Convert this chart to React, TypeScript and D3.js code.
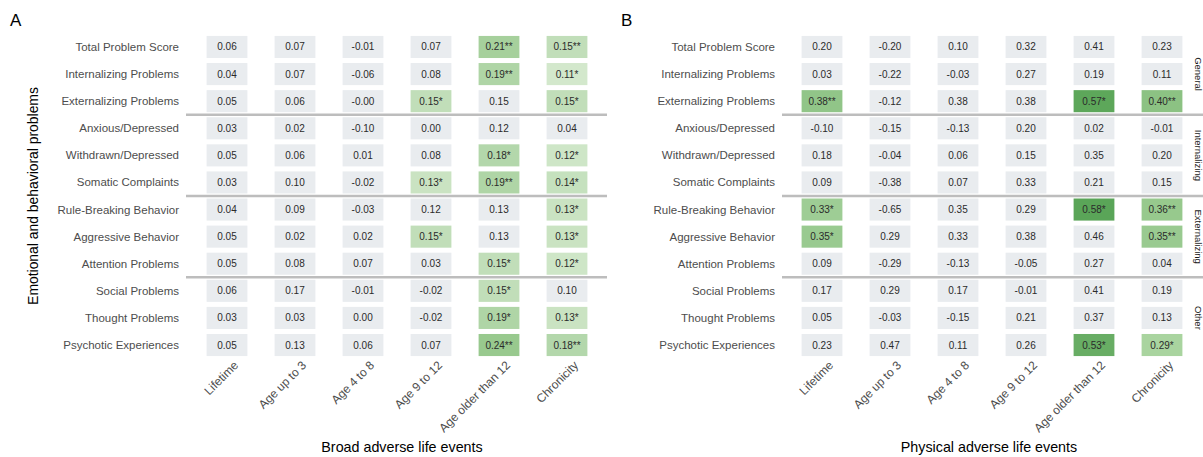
import React from "react";
import * as d3 from "d3";

const rows = [
  "Total Problem Score",
  "Internalizing Problems",
  "Externalizing Problems",
  "Anxious/Depressed",
  "Withdrawn/Depressed",
  "Somatic Complaints",
  "Rule-Breaking Behavior",
  "Aggressive Behavior",
  "Attention Problems",
  "Social Problems",
  "Thought Problems",
  "Psychotic Experiences",
];

const columns = ["Lifetime", "Age up to 3", "Age 4 to 8", "Age 9 to 12", "Age older than 12", "Chronicity"];

const groups = ["General", "Internalizing", "Externalizing", "Other"];
const groupRows = [3, 3, 3, 3];

// Panel A: Broad adverse life events
const broadValues = [
  [0.06, 0.07, -0.01, 0.07, 0.21, 0.15],
  [0.04, 0.07, -0.06, 0.08, 0.19, 0.11],
  [0.05, 0.06, -0, 0.15, 0.15, 0.15],
  [0.03, 0.02, -0.1, 0.0, 0.12, 0.04],
  [0.05, 0.06, 0.01, 0.08, 0.18, 0.12],
  [0.03, 0.1, -0.02, 0.13, 0.19, 0.14],
  [0.04, 0.09, -0.03, 0.12, 0.13, 0.13],
  [0.05, 0.02, 0.02, 0.15, 0.13, 0.13],
  [0.05, 0.08, 0.07, 0.03, 0.15, 0.12],
  [0.06, 0.17, -0.01, -0.02, 0.15, 0.1],
  [0.03, 0.03, 0.0, -0.02, 0.19, 0.13],
  [0.05, 0.13, 0.06, 0.07, 0.24, 0.18],
];
const broadStars = [
  ["", "", "", "", "**", "**"],
  ["", "", "", "", "**", "*"],
  ["", "", "", "*", "", "*"],
  ["", "", "", "", "", ""],
  ["", "", "", "", "*", "*"],
  ["", "", "", "*", "**", "*"],
  ["", "", "", "", "", "*"],
  ["", "", "", "*", "", "*"],
  ["", "", "", "", "*", "*"],
  ["", "", "", "", "*", ""],
  ["", "", "", "", "*", "*"],
  ["", "", "", "", "**", "**"],
];

// Panel B: Physical adverse life events
const physicalValues = [
  [0.2, -0.2, 0.1, 0.32, 0.41, 0.23],
  [0.03, -0.22, -0.03, 0.27, 0.19, 0.11],
  [0.38, -0.12, 0.38, 0.38, 0.57, 0.4],
  [-0.1, -0.15, -0.13, 0.2, 0.02, -0.01],
  [0.18, -0.04, 0.06, 0.15, 0.35, 0.2],
  [0.09, -0.38, 0.07, 0.33, 0.21, 0.15],
  [0.33, -0.65, 0.35, 0.29, 0.58, 0.36],
  [0.35, 0.29, 0.33, 0.38, 0.46, 0.35],
  [0.09, -0.29, -0.13, -0.05, 0.27, 0.04],
  [0.17, 0.29, 0.17, -0.01, 0.41, 0.19],
  [0.05, -0.03, -0.15, 0.21, 0.37, 0.13],
  [0.23, 0.47, 0.11, 0.26, 0.53, 0.29],
];
const physicalStars = [
  ["", "", "", "", "", ""],
  ["", "", "", "", "", ""],
  ["**", "", "", "", "*", "**"],
  ["", "", "", "", "", ""],
  ["", "", "", "", "", ""],
  ["", "", "", "", "", ""],
  ["*", "", "", "", "*", "**"],
  ["*", "", "", "", "", "**"],
  ["", "", "", "", "", ""],
  ["", "", "", "", "", ""],
  ["", "", "", "", "", ""],
  ["", "", "", "", "*", "*"],
];

const FONT = "'Liberation Sans', Arial, Helvetica, sans-serif";
const W = 1203;
const H = 457;

function fmt(v: number): string {
  const neg = v < 0 || Object.is(v, -0);
  return (neg ? "-" : "") + Math.abs(v).toFixed(2);
}

type PanelProps = {
  letter: string;
  letterX: number;
  x0: number;
  x1: number;
  lineX0: number;
  lineX1: number;
  labelRight: number;
  title: string;
  titleX: number;
  values: number[][];
  stars: string[][];
  color: (v: number) => string;
  strip: boolean;
};

function Panel(p: PanelProps) {
  const x = d3.scaleBand<string>().domain(columns).range([p.x0, p.x1]).paddingInner(0.4).paddingOuter(0.2);
  const y = d3.scaleBand<string>().domain(rows).range([33.5, 358.5]).paddingInner(0.185).paddingOuter(0.09);
  const cum: number[] = [];
  let acc = 0;
  groupRows.forEach((n) => {
    cum.push(acc);
    acc += n;
  });
  const sepYs = cum.slice(1).map((i) => (y(rows[i - 1])! + y.bandwidth() + y(rows[i])!) / 2);
  return (
    <g>
      <text x={p.letterX} y={26} fontSize={17} fontFamily={FONT} fill="#000">
        {p.letter}
      </text>
      {rows.map((r) => (
        <text
          key={r}
          x={p.labelRight}
          y={y(r)! + y.bandwidth() / 2}
          dy="0.35em"
          textAnchor="end"
          fontSize={11.5}
          fontFamily={FONT}
          fill="#4d4d4d"
        >
          {r}
        </text>
      ))}
      {rows.map((r, i) =>
        columns.map((c, j) => {
          const v = p.values[i][j];
          const s = p.stars[i][j];
          return (
            <g key={r + c}>
              <rect
                x={x(c)!}
                y={y(r)!}
                width={x.bandwidth()}
                height={y.bandwidth()}
                fill={s ? p.color(v) : "#e9ecef"}
              />
              <text
                x={x(c)! + x.bandwidth() / 2}
                y={y(r)! + y.bandwidth() / 2}
                dy="0.35em"
                textAnchor="middle"
                fontSize={10}
                fontFamily={FONT}
                fill="#2b2b2b"
              >
                {fmt(v) + s}
              </text>
            </g>
          );
        })
      )}
      {sepYs.map((sy, k) => (
        <line key={k} x1={p.lineX0} x2={p.lineX1} y1={sy} y2={sy} stroke="#bdbdbd" strokeWidth={2.5} />
      ))}
      {columns.map((c) => {
        const cx = x(c)! + x.bandwidth() / 2 + 12;
        const cy = 366;
        return (
          <text
            key={c}
            transform={`translate(${cx},${cy}) rotate(-45)`}
            textAnchor="end"
            fontSize={12}
            fontFamily={FONT}
            fill="#4d4d4d"
          >
            {c}
          </text>
        );
      })}
      <text x={p.titleX} y={452} textAnchor="middle" fontSize={14.3} fontFamily={FONT} fill="#000">
        {p.title}
      </text>
      {p.strip &&
        groups.map((g, k) => {
          const first = rows[cum[k]];
          const last = rows[cum[k] + groupRows[k] - 1];
          const cy = (y(first)! + y(last)! + y.bandwidth()) / 2;
          return (
            <text
              key={g}
              transform={`translate(${p.lineX1 - 8},${cy}) rotate(90)`}
              textAnchor="middle"
              fontSize={9.5}
              fontFamily={FONT}
              fill="#1a1a1a"
            >
              {g}
            </text>
          );
        })}
    </g>
  );
}

export default function App() {
  const colorA = d3
    .scaleLinear<string>()
    .domain([0.11, 0.24])
    .range(["#d3e8cc", "#98c98e"])
    .interpolate(d3.interpolateRgb)
    .clamp(true);
  const colorB = d3
    .scaleLinear<string>()
    .domain([0.29, 0.4, 0.58])
    .range(["#a9d49f", "#8cc283", "#5aa558"])
    .interpolate(d3.interpolateRgb)
    .clamp(true);
  return (
    <svg
      width={W}
      height={H}
      style={{ position: "absolute", left: 0, top: 0, background: "#fff" }}
      xmlns="http://www.w3.org/2000/svg"
    >
      <rect width={W} height={H} fill="#fff" />
      <text
        transform="translate(38,196) rotate(-90)"
        textAnchor="middle"
        fontSize={13.9}
        fontFamily={FONT}
        fill="#000"
      >
        Emotional and behavioral problems
      </text>
      <Panel
        letter="A"
        letterX={10}
        x0={193}
        x1={601}
        lineX0={186}
        lineX1={607}
        labelRight={179}
        title="Broad adverse life events"
        titleX={402}
        values={broadValues}
        stars={broadStars}
        color={colorA}
        strip={false}
      />
      <Panel
        letter="B"
        letterX={621}
        x0={788}
        x1={1196}
        lineX0={782}
        lineX1={1203}
        labelRight={775}
        title="Physical adverse life events"
        titleX={989}
        values={physicalValues}
        stars={physicalStars}
        color={colorB}
        strip={true}
      />
    </svg>
  );
}
